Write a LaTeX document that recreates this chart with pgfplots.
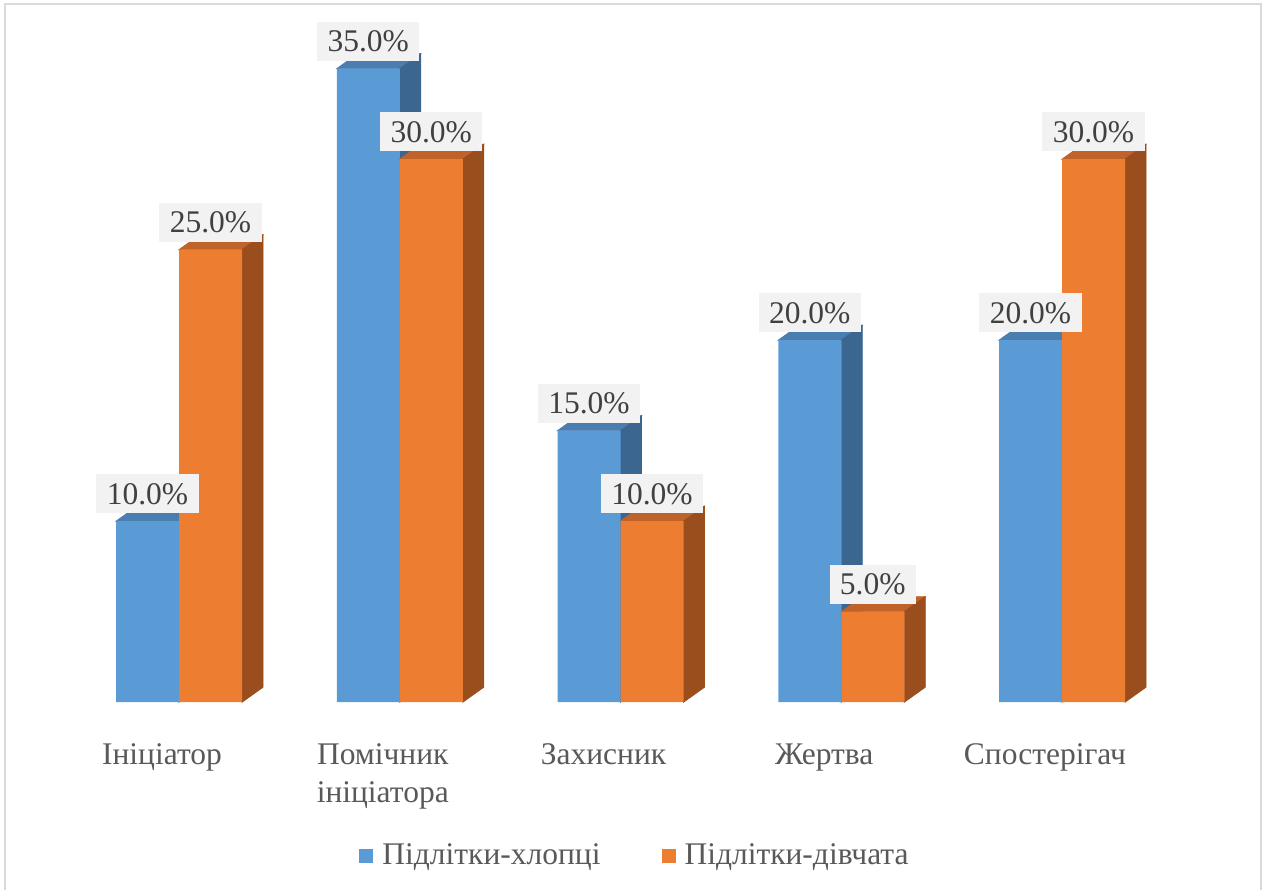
\documentclass[border=0pt]{standalone}
\usepackage{pgfplots}
\usepackage{pgfplotstable}
\pgfplotsset{compat=1.18}
\usepackage{fontspec}
\setmainfont{Liberation Serif}
\definecolor{bfront}{HTML}{5B9BD5}
\definecolor{btop}{HTML}{4A7EB0}
\definecolor{bside}{HTML}{3B6690}
\definecolor{ofront}{HTML}{ED7D31}
\definecolor{otop}{HTML}{C0632A}
\definecolor{oside}{HTML}{9A4E1E}
\definecolor{lblbg}{HTML}{F2F2F2}
\definecolor{lbltext}{HTML}{404040}
\definecolor{cattext}{HTML}{595959}
\definecolor{frameclr}{HTML}{D9D9D9}

\pgfplotstableread{
x boys girls
0 10 25
1 35 30
2 15 10
3 20 5
4 20 30
}\data

\pgfplotsset{
  sqlegend/.style={legend image code/.code={\fill[##1] (0pt,-3.5pt) rectangle (7pt,3.5pt);}},
  lbl/.style={every node near coord/.append style={font=\fontsize{15.75}{19}\selectfont, text=lbltext, fill=lblbg, inner xsep=5.2pt, inner ysep=4.4pt, text height=10.7pt, text depth=0pt, anchor=south, yshift=3.75pt, xshift=#1}},
}

\begin{document}
\begin{tikzpicture}
\begin{axis}[
  x=110.375pt, y=9.05pt,
  xmin=-0.8109, xmax=4.9287, ymin=-10.387, ymax=38.785,
  clip=false, clip marker paths=true,
  axis line style={draw=none},
  major tick length=0pt,
  ytick=\empty,
  xtick={0,...,4},
  xticklabels={Ініціатор, {Помічник\\ініціатора}, Захисник, Жертва, Спостерігач},
  xticklabel style={font=\fontsize{15.75}{19}\selectfont, text=cattext, align=center, anchor=north, inner sep=0pt, yshift=73.5pt, xshift=-8.5pt},
  legend style={at={(0.5004,0.0384)}, anchor=center, draw=none, fill=none, inner sep=0pt,
    font=\fontsize{15.75}{19}\selectfont, text=cattext, legend columns=2,
    nodes={inner sep=0pt},
    /tikz/every odd column/.append style={column sep=4.5pt},
    /tikz/every even column/.append style={column sep=30.5pt}},
]
% blue faces
\addplot[forget plot, only marks, mark=*, mark size=0pt, mark options={draw=none, fill=none}, scatter,
  visualization depends on={y \as \vy},
  scatter/@pre marker code/.code={%
    \pgfmathsetlengthmacro\hh{7.5pt-\vy*9.05pt}%
    \pgfmathsetlengthmacro\h{-\vy*9.05pt}%
    \fill[btop] (-31.5pt,0pt) -- (-21pt,7.5pt) -- (10.5pt,7.5pt) -- (0pt,0pt) -- cycle;
    \fill[bside] (0pt,0pt) -- (10.5pt,7.5pt) -- (10.5pt,\hh) -- (0pt,\h) -- cycle;
  },
  scatter/@post marker code/.code={}]
  table[x=x, y=boys]{\data};
\addplot[ybar, bar width=31.5pt, bar shift=-15.75pt, fill=bfront, draw=none, sqlegend]
  table[x=x, y=boys]{\data};
% orange faces
\addplot[forget plot, only marks, mark=*, mark size=0pt, mark options={draw=none, fill=none}, scatter,
  visualization depends on={y \as \vy},
  scatter/@pre marker code/.code={%
    \pgfmathsetlengthmacro\hh{7.5pt-\vy*9.05pt}%
    \pgfmathsetlengthmacro\h{-\vy*9.05pt}%
    \fill[otop] (0pt,0pt) -- (10.5pt,7.5pt) -- (42pt,7.5pt) -- (31.5pt,0pt) -- cycle;
    \fill[oside] (31.5pt,0pt) -- (42pt,7.5pt) -- (42pt,\hh) -- (31.5pt,\h) -- cycle;
  },
  scatter/@post marker code/.code={}]
  table[x=x, y=girls]{\data};
\addplot[ybar, bar width=31.5pt, bar shift=15.75pt, fill=ofront, draw=none, sqlegend]
  table[x=x, y=girls]{\data};
% labels
\addplot[forget plot, draw=none, mark=none, point meta=y,
  nodes near coords={\pgfmathprintnumber[fixed,fixed zerofill,precision=1,assume math mode=true]{\pgfplotspointmeta}\%},
  lbl=-15.75pt]
  table[x=x, y=boys]{\data};
\addplot[forget plot, draw=none, mark=none, point meta=y,
  nodes near coords={\pgfmathprintnumber[fixed,fixed zerofill,precision=1,assume math mode=true]{\pgfplotspointmeta}\%},
  lbl=15.75pt]
  table[x=x, y=girls]{\data};
\legend{Підлітки-хлопці, Підлітки-дівчата}
\draw[frameclr, line width=1.2pt] (axis description cs:0.00395,0) -- (axis description cs:0.00395,0.9955) -- (axis description cs:0.99526,0.9955) -- (axis description cs:0.99526,0);
\end{axis}
\end{tikzpicture}
\end{document}
